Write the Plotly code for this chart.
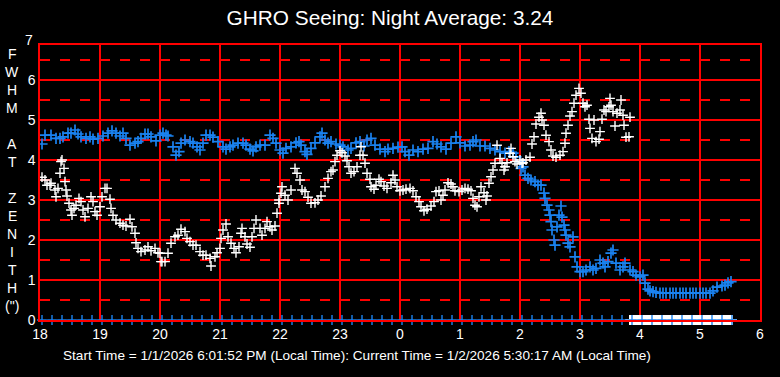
import plotly.graph_objects as go

# ---- data (time in minutes after 18:00, value = FWHM arcsec) ----
blue_min = [2, 5, 11, 16, 20, 23, 28, 31, 35, 38, 41, 46, 50, 53, 58, 63, 68, 72, 76, 80,
            83, 86, 90, 95, 98, 101, 105, 108, 111, 116, 120, 123, 126, 128, 133, 136, 139, 141, 145, 150,
            153, 157, 160, 163, 166, 170, 173, 178, 183, 186, 190, 193, 198, 203, 206, 210, 213, 216, 220, 225,
            230, 233, 236, 240, 243, 246, 251, 256, 259, 261, 265, 267, 271, 275, 280, 282, 285, 288, 291, 296,
            300, 303, 308, 311, 316, 320, 324, 327, 331, 335, 340, 345, 348, 353, 358, 362, 365, 369, 373, 378,
            383, 388, 393, 397, 401, 406, 411, 416, 420, 425, 430, 433, 436, 440, 445, 450, 455, 460, 465, 469,
            473, 476, 480, 481, 483, 485, 488, 491, 495, 498, 501, 504, 505, 507, 509, 510, 511, 512, 514, 515,
            517, 519, 521, 522, 524, 525, 526, 528, 530, 533, 535, 537, 540, 543, 546, 550, 553, 556, 560, 563,
            565, 568, 571, 573, 576, 580, 583, 585, 590, 593, 596, 600, 603, 605, 608, 610, 613, 616, 620, 623,
            626, 630, 633, 636, 640, 643, 646, 650, 653, 656, 660, 663, 666, 670, 673, 677, 682, 685, 688, 691]
blue_val = [4.40, 4.62, 4.62, 4.54, 4.54, 4.58, 4.67, 4.67, 4.75, 4.65, 4.58, 4.54, 4.58, 4.52, 4.54, 4.60, 4.67, 4.73, 4.67, 4.60,
            4.67, 4.54, 4.37, 4.42, 4.46, 4.54, 4.65, 4.65, 4.58, 4.48, 4.62, 4.67, 4.62, 4.60, 4.33, 4.12, 4.21, 4.42, 4.50, 4.46,
            4.42, 4.33, 4.25, 4.42, 4.62, 4.62, 4.57, 4.46, 4.33, 4.27, 4.33, 4.37, 4.42, 4.42, 4.37, 4.27, 4.23, 4.33, 4.37, 4.37,
            4.62, 4.54, 4.42, 4.25, 4.17, 4.29, 4.33, 4.43, 4.46, 4.37, 4.21, 4.14, 4.29, 4.43, 4.58, 4.67, 4.50, 4.42, 4.46, 4.40,
            4.37, 4.33, 4.25, 4.29, 4.43, 4.46, 4.35, 4.50, 4.54, 4.37, 4.27, 4.21, 4.27, 4.29, 4.32, 4.33, 4.21, 4.12, 4.25, 4.21,
            4.27, 4.29, 4.46, 4.40, 4.33, 4.27, 4.42, 4.58, 4.43, 4.35, 4.37, 4.46, 4.50, 4.35, 4.35, 4.29, 4.25, 4.21, 4.17, 4.21,
            4.17, 4.08, 3.96, 3.79, 3.83, 3.62, 3.54, 3.50, 3.46, 3.37, 3.37, 3.17, 3.04, 2.87, 2.75, 2.62, 2.46, 2.25, 2.00, 1.87,
            2.33, 2.62, 2.85, 2.57, 2.37, 2.25, 2.12, 1.92, 1.83, 2.08, 1.58, 1.33, 1.21, 1.21, 1.25, 1.33, 1.25, 1.29, 1.50, 1.42,
            1.33, 1.46, 1.67, 1.75, 1.42, 1.25, 1.33, 1.42, 1.25, 1.21, 1.12, 1.08, 1.12, 0.92, 0.77, 0.73, 0.71, 0.69, 0.67, 0.67,
            0.67, 0.67, 0.67, 0.67, 0.67, 0.67, 0.67, 0.67, 0.67, 0.67, 0.67, 0.67, 0.67, 0.67, 0.73, 0.82, 0.85, 0.87, 0.93, 0.96]

white_min = [2, 5, 7, 10, 11, 15, 16, 18, 20, 21, 22, 24, 25, 26, 27, 29, 31, 32, 34, 36,
             39, 41, 43, 45, 48, 51, 53, 55, 57, 60, 62, 65, 67, 70, 71, 73, 76, 80, 83, 86,
             90, 92, 95, 96, 98, 101, 105, 108, 111, 115, 118, 120, 121, 122, 125, 128, 131, 135, 138, 141,
             145, 147, 150, 153, 156, 160, 163, 166, 170, 171, 175, 177, 180, 181, 183, 186, 188, 191, 194, 196,
             199, 201, 202, 205, 207, 210, 212, 214, 216, 220, 222, 225, 227, 230, 232, 235, 237, 239, 239, 241,
             242, 245, 248, 251, 255, 257, 260, 262, 265, 268, 271, 275, 278, 281, 285, 288, 291, 293, 295, 297,
             300, 302, 305, 307, 309, 311, 314, 317, 320, 321, 323, 325, 327, 330, 331, 334, 336, 339, 341, 344,
             347, 351, 353, 355, 357, 360, 363, 366, 370, 373, 376, 379, 381, 384, 387, 391, 394, 396, 399, 401,
             403, 405, 408, 411, 413, 415, 419, 422, 425, 428, 431, 433, 435, 437, 439, 441, 444, 446, 447, 449,
             451, 453, 455, 457, 460, 462, 464, 465, 467, 470, 471, 473, 475, 477, 480, 482, 483, 486, 490, 492,
             494, 496, 499, 501, 502, 504, 506, 509, 511, 513, 516, 520, 523, 525, 526, 528, 530, 532, 534, 536,
             539, 541, 543, 545, 547, 549, 550, 552, 554, 556, 559, 560, 562, 564, 566, 569, 570, 571, 573, 575,
             577, 580, 581, 583, 584, 586, 589, 590]
white_val = [3.57, 3.50, 3.37, 3.37, 3.42, 3.25, 3.08, 3.29, 3.67, 3.96, 4.00, 3.79, 3.46, 3.25, 3.10, 2.92, 2.75, 2.62, 2.79, 2.87,
             3.04, 2.96, 2.75, 2.58, 2.79, 3.08, 2.96, 2.71, 2.62, 2.83, 3.08, 3.29, 3.29, 3.02, 2.79, 2.62, 2.50, 2.42, 2.37, 2.35,
             2.52, 2.33, 2.17, 1.93, 1.79, 1.71, 1.75, 1.83, 1.73, 1.79, 1.68, 1.67, 1.46, 1.46, 1.46, 1.67, 1.92, 2.08, 2.12, 2.27,
             2.21, 2.04, 1.96, 1.87, 1.87, 1.71, 1.62, 1.62, 1.54, 1.35, 1.58, 1.68, 1.79, 2.04, 2.25, 2.40, 2.08, 1.92, 1.79, 1.68,
             1.83, 2.17, 2.29, 2.08, 1.90, 1.82, 2.08, 2.29, 2.50, 2.29, 2.12, 2.29, 2.46, 2.33, 2.25, 2.35, 2.67, 2.92, 3.00, 3.17,
             3.33, 3.12, 3.00, 3.25, 3.79, 3.67, 3.50, 3.25, 3.21, 3.07, 2.92, 2.93, 3.00, 3.10, 3.33, 3.54, 3.71, 3.75, 3.96, 4.12,
             4.23, 4.18, 4.10, 3.98, 3.83, 3.67, 3.71, 3.83, 4.12, 4.33, 4.12, 3.92, 3.67, 3.52, 3.33, 3.27, 3.37, 3.52, 3.46, 3.35,
             3.29, 3.43, 3.62, 3.50, 3.33, 3.23, 3.25, 3.27, 3.29, 3.23, 3.08, 2.96, 2.83, 2.73, 2.77, 2.85, 2.96, 3.21, 3.23, 3.00,
             3.12, 3.25, 3.43, 3.40, 3.33, 3.23, 3.21, 3.25, 3.29, 3.27, 3.23, 3.04, 2.87, 2.83, 3.08, 3.33, 3.18, 3.00, 3.10, 3.42,
             3.58, 3.75, 3.92, 4.37, 4.04, 3.92, 3.75, 3.83, 3.93, 4.17, 4.29, 4.08, 3.96, 3.90, 4.00, 3.92, 3.93, 4.00, 4.07, 4.40,
             4.58, 4.90, 5.07, 5.17, 5.00, 4.87, 4.62, 4.46, 4.25, 4.10, 4.07, 4.12, 4.21, 4.42, 4.67, 4.87, 5.10, 5.21, 5.42, 5.62,
             5.79, 5.67, 5.42, 5.33, 5.37, 5.02, 4.79, 4.54, 5.00, 4.46, 4.52, 4.71, 5.02, 5.25, 5.21, 5.33, 5.54, 5.37, 5.21, 4.85,
             5.17, 5.25, 5.50, 5.12, 4.87, 4.57, 4.58, 5.07]

# markers sitting on the zero line
blue_zero_min = list(range(2, 693, 10))
white_zero_min = list(range(590, 693, 2))

x_tickvals = list(range(0, 13))
x_ticktext = ["18", "19", "20", "21", "22", "23", "0", "1", "2", "3", "4", "5", "6"]
y_tickvals = [0, 1, 2, 3, 4, 5, 6]
y_minor = [0.5, 1.5, 2.5, 3.5, 4.5, 5.5, 6.5]

title_text = "GHRO Seeing: Night Average: 3.24"
footer_text = "Start Time = 1/1/2026 6:01:52 PM (Local Time): Current Time = 1/2/2026 5:30:17 AM (Local Time)"
ylabel_lines = ["F", "W", "H", "M", "", "A", "T", "", "Z", "E", "N", "I", "T", "H", "(\")"]

BLUE = "#1a82f0"
RED = "#ff0000"
FONT = "Liberation Sans, Arial, sans-serif"

def hrs(mins):
    return [m / 60.0 for m in mins]

fig = go.Figure()
fig.add_trace(go.Scatter(x=hrs(blue_min), y=blue_val, mode="markers",
                         marker=dict(symbol="cross-thin", size=8, line=dict(color=BLUE, width=1.7)),
                         hoverinfo="skip", showlegend=False))
fig.add_trace(go.Scatter(x=hrs(white_min), y=white_val, mode="markers",
                         marker=dict(symbol="cross-thin", size=7, line=dict(color="white", width=1.4)),
                         hoverinfo="skip", showlegend=False))
fig.add_trace(go.Scatter(x=hrs(white_zero_min), y=[0] * len(white_zero_min), mode="markers",
                         marker=dict(symbol="cross-thin", size=7, line=dict(color="white", width=2)),
                         cliponaxis=False, hoverinfo="skip", showlegend=False))
fig.add_trace(go.Scatter(x=hrs(blue_zero_min), y=[0] * len(blue_zero_min), mode="markers",
                         marker=dict(symbol="cross-thin", size=7, line=dict(color=BLUE, width=1.4)),
                         cliponaxis=False, hoverinfo="skip", showlegend=False))

fig.update_layout(
    width=780, height=377,
    paper_bgcolor="black", plot_bgcolor="black",
    margin=dict(l=40, r=20, t=45, b=57),
    title=dict(text=title_text, x=390 / 780, xref="container", y=1 - 18 / 377, yref="container",
               xanchor="center", yanchor="middle", font=dict(family=FONT, size=20.8, color="white")),
    xaxis=dict(range=[0, 12], tickvals=x_tickvals, ticktext=x_ticktext,
               showgrid=True, gridcolor=RED, gridwidth=1.5, zeroline=False,
               showline=True, linecolor=RED, linewidth=1.5, mirror=True, ticks="",
               tickfont=dict(family=FONT, size=14, color="white")),
    yaxis=dict(range=[0, 6.875], tickvals=y_tickvals,
               showgrid=True, gridcolor=RED, gridwidth=1.5, zeroline=False,
               showline=True, linecolor=RED, linewidth=1.5, mirror=True, ticks="",
               tickfont=dict(family=FONT, size=14, color="white"),
               minor=dict(tickvals=y_minor, showgrid=True, gridcolor=RED, gridwidth=1.5,
                          griddash="10px,10px")),
)

annotations = []
for i, ch in enumerate(ylabel_lines):
    if not ch:
        continue
    py = 54 + 18 * i
    annotations.append(dict(text=ch, xref="paper", yref="paper", x=(12 - 40) / 720, y=(320 - py) / 275,
                            xanchor="center", yanchor="middle", showarrow=False,
                            font=dict(family=FONT, size=14, color="white")))
annotations.append(dict(text="7", xref="paper", yref="paper", x=(35 - 40) / 720, y=(320 - 40) / 275,
                        xanchor="right", yanchor="middle", showarrow=False,
                        font=dict(family=FONT, size=14, color="white")))
annotations.append(dict(text=footer_text, xref="paper", yref="paper", x=(356.5 - 40) / 720, y=(320 - 355) / 275,
                        xanchor="center", yanchor="middle", showarrow=False,
                        font=dict(family=FONT, size=13.6, color="white")))
fig.update_layout(annotations=annotations)

fig.write_html("out.html", config={"displayModeBar": False},
               post_script="document.body.style.margin='0';document.body.style.padding='0';")
